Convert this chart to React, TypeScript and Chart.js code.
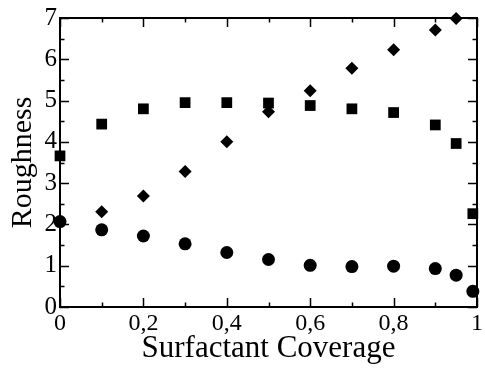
import React, { useEffect, useRef } from "react";
import { Chart, registerables } from "chart.js";

Chart.register(...registerables);

const coverageSquares = [0, 0.1, 0.2, 0.3, 0.4, 0.5, 0.6, 0.7, 0.8, 0.9, 0.95, 0.99];
const roughnessSquares = [3.66, 4.43, 4.8, 4.95, 4.95, 4.94, 4.88, 4.8, 4.71, 4.41, 3.96, 2.26];

const coverageDiamonds = [0.1, 0.2, 0.3, 0.4, 0.5, 0.6, 0.7, 0.8, 0.9, 0.95];
const roughnessDiamonds = [2.31, 2.69, 3.28, 4.0, 4.73, 5.24, 5.78, 6.23, 6.71, 6.99];

const coverageCircles = [0, 0.1, 0.2, 0.3, 0.4, 0.5, 0.6, 0.7, 0.8, 0.9, 0.95, 0.99];
const roughnessCircles = [2.07, 1.87, 1.72, 1.53, 1.32, 1.15, 1.01, 0.98, 0.99, 0.93, 0.77, 0.38];

const xMajorTicks = [0, 0.2, 0.4, 0.6, 0.8, 1];
const xMinorTicks = [0.1, 0.3, 0.5, 0.7, 0.9];
const yMajorTicks = [0, 1, 2, 3, 4, 5, 6, 7];
const yMinorTicks = [0.5, 1.5, 2.5, 3.5, 4.5, 5.5, 6.5];

const xTitle = "Surfactant Coverage";
const yTitle = "Roughness";

const toPoints = (xs: number[], ys: number[]) => xs.map((x, i) => ({ x, y: ys[i] }));

const frameTicksPlugin = {
  id: "frameTicks",
  beforeDatasetsDraw(chart: any) {
    const { ctx, chartArea, scales } = chart;
    const { left, right, top, bottom } = chartArea;
    const xs = scales.x;
    const ys = scales.y;
    ctx.save();
    ctx.strokeStyle = "#000";
    ctx.lineWidth = 2;
    ctx.strokeRect(left, top, right - left, bottom - top);
    ctx.lineWidth = 1.5;
    ctx.beginPath();
    const xt = (vals: number[], len: number) => {
      vals.forEach((v) => {
        const px = Math.round(xs.getPixelForValue(v)) + 0.5;
        ctx.moveTo(px, bottom);
        ctx.lineTo(px, bottom - len);
        ctx.moveTo(px, top);
        ctx.lineTo(px, top + len);
      });
    };
    const yt = (vals: number[], len: number) => {
      vals.forEach((v) => {
        const py = Math.round(ys.getPixelForValue(v)) + 0.5;
        ctx.moveTo(left, py);
        ctx.lineTo(left + len, py);
        ctx.moveTo(right, py);
        ctx.lineTo(right - len, py);
      });
    };
    xt(xMajorTicks, 9);
    xt(xMinorTicks, 4.5);
    yt(yMajorTicks, 9);
    yt(yMinorTicks, 4.5);
    ctx.stroke();
    ctx.restore();
  },
};

export default function App() {
  const canvasRef = useRef<HTMLCanvasElement | null>(null);

  useEffect(() => {
    if (!canvasRef.current) return;
    const font = "'Liberation Serif', 'Times New Roman', serif";
    const chart = new Chart(canvasRef.current, {
      type: "scatter",
      data: {
        datasets: [
          {
            label: "squares",
            data: toPoints(coverageSquares, roughnessSquares),
            pointStyle: "rect",
            pointRadius: 7.6,
            backgroundColor: "#000",
            borderColor: "#000",
            borderWidth: 0,
            clip: false,
          },
          {
            label: "diamonds",
            data: toPoints(coverageDiamonds, roughnessDiamonds),
            pointStyle: "rectRot",
            pointRadius: 6.5,
            backgroundColor: "#000",
            borderColor: "#000",
            borderWidth: 0,
            clip: false,
          },
          {
            label: "circles",
            data: toPoints(coverageCircles, roughnessCircles),
            pointStyle: "circle",
            pointRadius: 6.5,
            backgroundColor: "#000",
            borderColor: "#000",
            borderWidth: 0,
            clip: false,
          },
        ] as any,
      },
      options: {
        animation: false,
        responsive: true,
        maintainAspectRatio: false,
        layout: { padding: { left: 0, right: 6, top: 14, bottom: 0 } },
        plugins: {
          legend: { display: false },
          tooltip: { enabled: false },
        },
        scales: {
          x: {
            type: "linear",
            position: "bottom",
            min: 0,
            max: 1,
            afterBuildTicks: (scale: any) => {
              scale.ticks = xMajorTicks.map((v) => ({ value: v }));
            },
            afterFit: (scale: any) => {
              scale.height = 61;
            },
            grid: { display: false, drawTicks: false },
            border: { display: false },
            ticks: {
              color: "#000",
              padding: 2,
              maxRotation: 0,
              font: { family: font, size: 24 },
              callback: (v: any) => {
                const n = Number(v);
                if (n === 0 || n === 1) return String(n);
                return n.toFixed(1).replace(".", ",");
              },
            },
            title: {
              display: true,
              text: xTitle,
              color: "#000",
              font: { family: font, size: 31 },
              padding: { top: 0, bottom: 1 },
            },
          },
          y: {
            type: "linear",
            min: 0,
            max: 7,
            afterBuildTicks: (scale: any) => {
              scale.ticks = yMajorTicks.map((v) => ({ value: v }));
            },
            afterFit: (scale: any) => {
              scale.width = 60;
            },
            grid: { display: false, drawTicks: false },
            border: { display: false },
            ticks: {
              color: "#000",
              padding: 3,
              font: { family: font, size: 25 },
            },
            title: {
              display: true,
              text: yTitle,
              color: "#000",
              font: { family: font, size: 30 },
              padding: { top: 5, bottom: 0 },
            },
          },
        },
      } as any,
      plugins: [frameTicksPlugin],
    });
    return () => chart.destroy();
  }, []);

  return (
    <div style={{ position: "absolute", left: 0, top: 0, width: 485, height: 368, background: "#fff" }}>
      <canvas ref={canvasRef} />
    </div>
  );
}
